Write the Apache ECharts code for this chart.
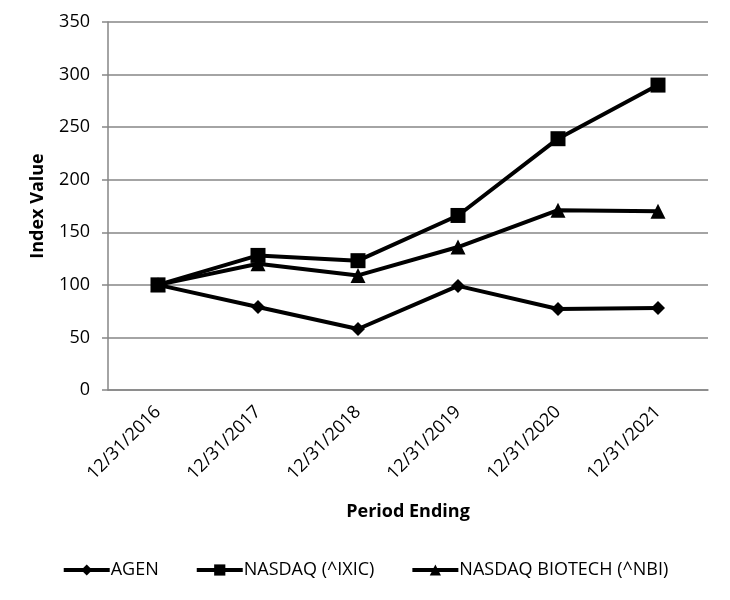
<!DOCTYPE html>
<html>
<head>
<meta charset="utf-8">
<script src="https://cdn.jsdelivr.net/npm/echarts@6/dist/echarts.min.js"></script>
<style>
  html, body { margin: 0; padding: 0; background: #fff; }
  #main { width: 730px; height: 600px; }
</style>
</head>
<body>
<div id="main"></div>
<script>
const periods = ['12/31/2016', '12/31/2017', '12/31/2018', '12/31/2019', '12/31/2020', '12/31/2021']
const agen = [100, 79, 58, 99, 77, 78]
const nasdaq = [100, 128, 123, 166, 239, 290]
const biotech = [100, 120, 109, 136, 171, 170]

const font = 'Open Sans'
const chart = echarts.init(document.getElementById('main'))

const lineSeries = (name, data, symbol, size) => ({
  name: name,
  type: 'line',
  data: data,
  symbol: symbol,
  symbolSize: size,
  lineStyle: { color: '#000', width: 4 },
  itemStyle: { color: '#000' },
  emphasis: { disabled: true },
  animation: false
})

chart.setOption({
  grid: { left: 108, right: 22, top: 22, bottom: 210 },
  legend: {
    bottom: 16,
    left: 'center',
    itemWidth: 46,
    itemHeight: 14,
    itemGap: 36,
    lineStyle: { width: 4 },
    textStyle: { fontFamily: font, fontSize: 18, color: '#000', padding: [0, 0, 0, -4] },
    data: ['AGEN', 'NASDAQ (^IXIC)', 'NASDAQ BIOTECH (^NBI)']
  },
  xAxis: {
    type: 'category',
    data: periods,
    boundaryGap: true,
    name: 'Period Ending',
    nameLocation: 'middle',
    nameGap: 113,
    nameTextStyle: { fontFamily: font, fontSize: 18, fontWeight: 'bold', color: '#000' },
    axisLine: { lineStyle: { color: '#868686', width: 1.5 } },
    axisTick: { show: false },
    axisLabel: { rotate: 45, fontFamily: font, fontSize: 18, color: '#000', margin: 19 }
  },
  yAxis: {
    type: 'value',
    min: 0,
    max: 350,
    interval: 50,
    name: 'Index Value',
    nameLocation: 'middle',
    nameGap: 61,
    nameTextStyle: { fontFamily: font, fontSize: 18, fontWeight: 'bold', color: '#000' },
    axisLine: { show: true, lineStyle: { color: '#868686', width: 1.5 } },
    axisTick: { show: true, length: 6, lineStyle: { color: '#868686', width: 1.5 } },
    axisLabel: { fontFamily: font, fontSize: 18, color: '#000', margin: 18 },
    splitLine: { lineStyle: { color: '#868686', width: 1.5 } }
  },
  series: [
    lineSeries('AGEN', agen, 'diamond', 14),
    lineSeries('NASDAQ (^IXIC)', nasdaq, 'rect', 15),
    lineSeries('NASDAQ BIOTECH (^NBI)', biotech, 'triangle', 15)
  ]
})
</script>
</body>
</html>
